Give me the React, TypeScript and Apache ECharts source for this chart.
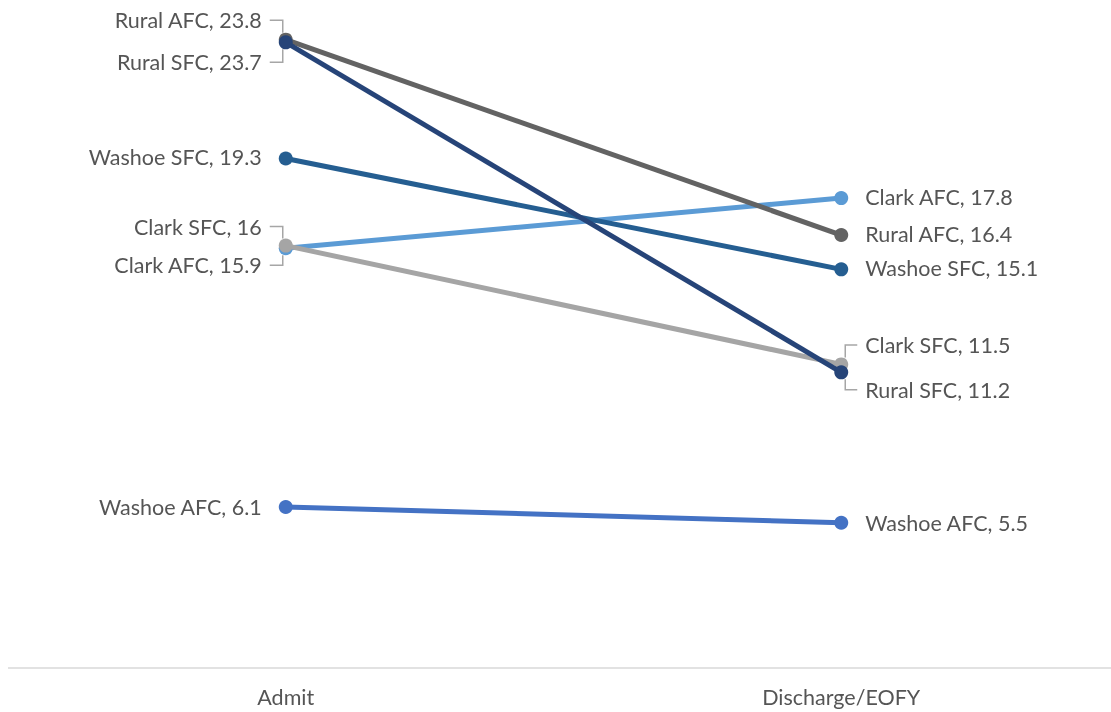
import React, { useEffect, useRef } from "react";
import * as echarts from "echarts";

// Slope chart: rate at admit vs. rate at discharge / end of fiscal year
const categories = ["Admit", "Discharge/EOFY"];
const seriesNames = ["Washoe AFC", "Clark AFC", "Clark SFC", "Washoe SFC", "Rural AFC", "Rural SFC"];
const admitValues = [6.1, 15.9, 16, 19.3, 23.8, 23.7];
const dischargeValues = [5.5, 17.8, 11.5, 15.1, 16.4, 11.2];
const seriesColors = ["#4472C4", "#5B9BD5", "#A5A5A5", "#255E91", "#636363", "#264478"];

// vertical nudges (px) for labels; the large ones are pulled apart and get a leader line
const admitLabelShift = [0, 17, -19, -1.5, -19.5, 20];
const dischargeLabelShift = [0, -1.5, -19.5, -1.5, -1.5, 17.5];
const LEADER_MIN_SHIFT = 5;

const FONT = "Lato, 'Noto Sans', sans-serif";
const TEXT_COLOR = "#555555";
const FONT_SIZE = 21.5;
const SYMBOL = 14;
const LABEL_GAP = 17;

export default function App() {
  const ref = useRef<HTMLDivElement>(null);

  useEffect(() => {
    if (!ref.current) return;
    const chart = echarts.init(ref.current, undefined, { renderer: "svg" });

    const series = seriesNames.map((name, i) => ({
      name,
      type: "line",
      data: [
        {
          value: admitValues[i],
          label: { position: "left", offset: [0, admitLabelShift[i]] },
        },
        {
          value: dischargeValues[i],
          label: { position: "right", offset: [0, dischargeLabelShift[i]] },
        },
      ],
      color: seriesColors[i],
      lineStyle: { width: 5, color: seriesColors[i] },
      itemStyle: { color: seriesColors[i] },
      symbol: "circle",
      symbolSize: SYMBOL,
      showSymbol: true,
      z: 2 + i,
      emphasis: { disabled: true },
      label: {
        show: true,
        distance: LABEL_GAP,
        color: TEXT_COLOR,
        fontFamily: FONT,
        fontSize: FONT_SIZE,
        lineHeight: 20,
        formatter: (p: any) => `${p.seriesName}, ${p.value}`,
      },
    }));

    chart.setOption({
      animation: false,
      grid: { left: 0, right: 0, top: -1, bottom: 44 },
      xAxis: {
        type: "category",
        data: categories,
        boundaryGap: true,
        axisLine: { show: true, lineStyle: { color: "#D9D9D9", width: 1.5 } },
        axisTick: { show: false },
        axisLabel: {
          color: TEXT_COLOR,
          fontFamily: FONT,
          fontSize: FONT_SIZE,
          margin: 18,
        },
        splitLine: { show: false },
      },
      yAxis: {
        type: "value",
        min: 0,
        max: 25,
        show: false,
        splitLine: { show: false },
      },
      series,
    });

    // bracket-shaped leader lines for labels pulled away from their point
    const leaders: any[] = [];
    seriesNames.forEach((_, i) => {
      [admitLabelShift[i], dischargeLabelShift[i]].forEach((shift, j) => {
        if (Math.abs(shift) < LEADER_MIN_SHIFT) return;
        const v = j === 0 ? admitValues[i] : dischargeValues[i];
        const [px, py] = chart.convertToPixel({ seriesIndex: i }, [j, v]) as number[];
        const ly = py + shift;
        const endY = py + (shift < 0 ? -7 : 7);
        const xs = j === 0 ? [px - 16, px - 3] : [px + 16, px + 4];
        leaders.push({
          type: "polyline",
          z: 100,
          shape: { points: [[xs[0], ly], [xs[1], ly], [xs[1], endY]] },
          style: { stroke: "#A6A6A6", lineWidth: 1.5, fill: "none" },
          silent: true,
        });
      });
    });
    chart.setOption({ graphic: leaders });

    return () => chart.dispose();
  }, []);

  // the plot runs past the right edge of the window, so the chart sits in a fixed clipping box
  return (
    <div
      style={{
        position: "fixed",
        left: 8,
        top: 8,
        width: 1103,
        height: 704,
        overflow: "hidden",
      }}
    >
      <div ref={ref} style={{ width: 1111, height: 704 }} />
    </div>
  );
}
